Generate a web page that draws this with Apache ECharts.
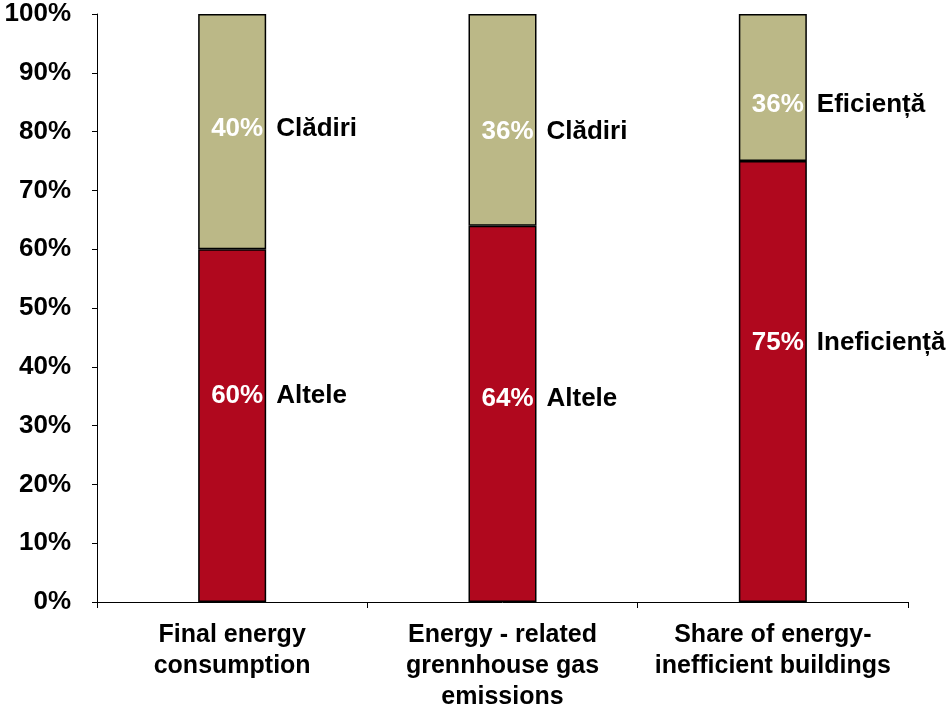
<!DOCTYPE html>
<html><head><meta charset="utf-8">
<script src="https://cdn.jsdelivr.net/npm/echarts@6/dist/echarts.min.js"></script>
<style>html,body{margin:0;padding:0;background:#fff}#c{width:952px;height:707px}</style>
</head><body><div id="c"></div>
<script>
var categories = ['Final energy\nconsumption', 'Energy - related\ngrennhouse gas\nemissions', 'Share of energy-\ninefficient buildings'];
var bottomValues = [60, 64, 75];
var topValues = [40, 36, 25];
var bottomValueLabels = ['60%', '64%', '75%'];
var topValueLabels = ['40%', '36%', '36%'];
var bottomNames = ['Altele', 'Altele', 'Ineficiență'];
var topNames = ['Clădiri', 'Clădiri', 'Eficiență'];
var bottomLabelY = [35, 34.5, 44];
var topLabelY = [80.5, 80, 84.5];

var FONT = '"Liberation Sans", Arial, sans-serif';
var chart = echarts.init(document.getElementById('c'));

function labelSeries(ys, texts, align, dx, color) {
  return {
    type: 'scatter',
    z: 10,
    silent: true,
    symbolSize: 1,
    itemStyle: { color: 'rgba(0,0,0,0)', opacity: 1 },
    data: ys.map(function (y, i) { return [i, y]; }),
    label: {
      show: true,
      position: 'inside',
      align: align,
      verticalAlign: 'middle',
      offset: [dx, 0],
      color: color,
      opacity: 1,
      textBorderWidth: 0,
      textShadowBlur: 0,
      fontFamily: FONT,
      fontWeight: 'bold',
      fontSize: 26,
      formatter: function (p) { return texts[p.dataIndex]; }
    }
  };
}

chart.setOption({
  animation: false,
  grid: { left: 97, right: 44, top: 14, bottom: 105, outerBoundsMode: 'none', containLabel: false },
  xAxis: {
    type: 'category',
    data: categories,
    axisLine: { lineStyle: { color: '#000', width: 1 } },
    axisTick: { show: true, length: 6, lineStyle: { color: '#000' } },
    axisLabel: {
      color: '#000', fontFamily: FONT, fontWeight: 'bold', fontSize: 25,
      lineHeight: 31, margin: 18, interval: 0
    }
  },
  yAxis: {
    type: 'value', min: 0, max: 100, interval: 10,
    axisLine: { show: true, lineStyle: { color: '#000', width: 1 } },
    axisTick: { show: true, length: 5, lineStyle: { color: '#000' } },
    splitLine: { show: false },
    axisLabel: {
      formatter: '{value}%', color: '#000', fontFamily: FONT,
      fontWeight: 'bold', fontSize: 26, margin: 26
    }
  },
  series: [
    {
      type: 'bar', stack: 's', barWidth: 68, data: bottomValues,
      itemStyle: { color: '#B0081E', borderColor: '#000', borderWidth: 1.5 }
    },
    {
      type: 'bar', stack: 's', barWidth: 68, data: topValues,
      itemStyle: { color: '#BBB887', borderColor: '#000', borderWidth: 1.5 }
    },
    labelSeries(bottomLabelY, bottomValueLabels, 'right', 31, '#fff'),
    labelSeries(topLabelY, topValueLabels, 'right', 31, '#fff'),
    labelSeries(bottomLabelY, bottomNames, 'left', 44, '#000'),
    labelSeries(topLabelY, topNames, 'left', 44, '#000')
  ]
});
</script></body></html>
